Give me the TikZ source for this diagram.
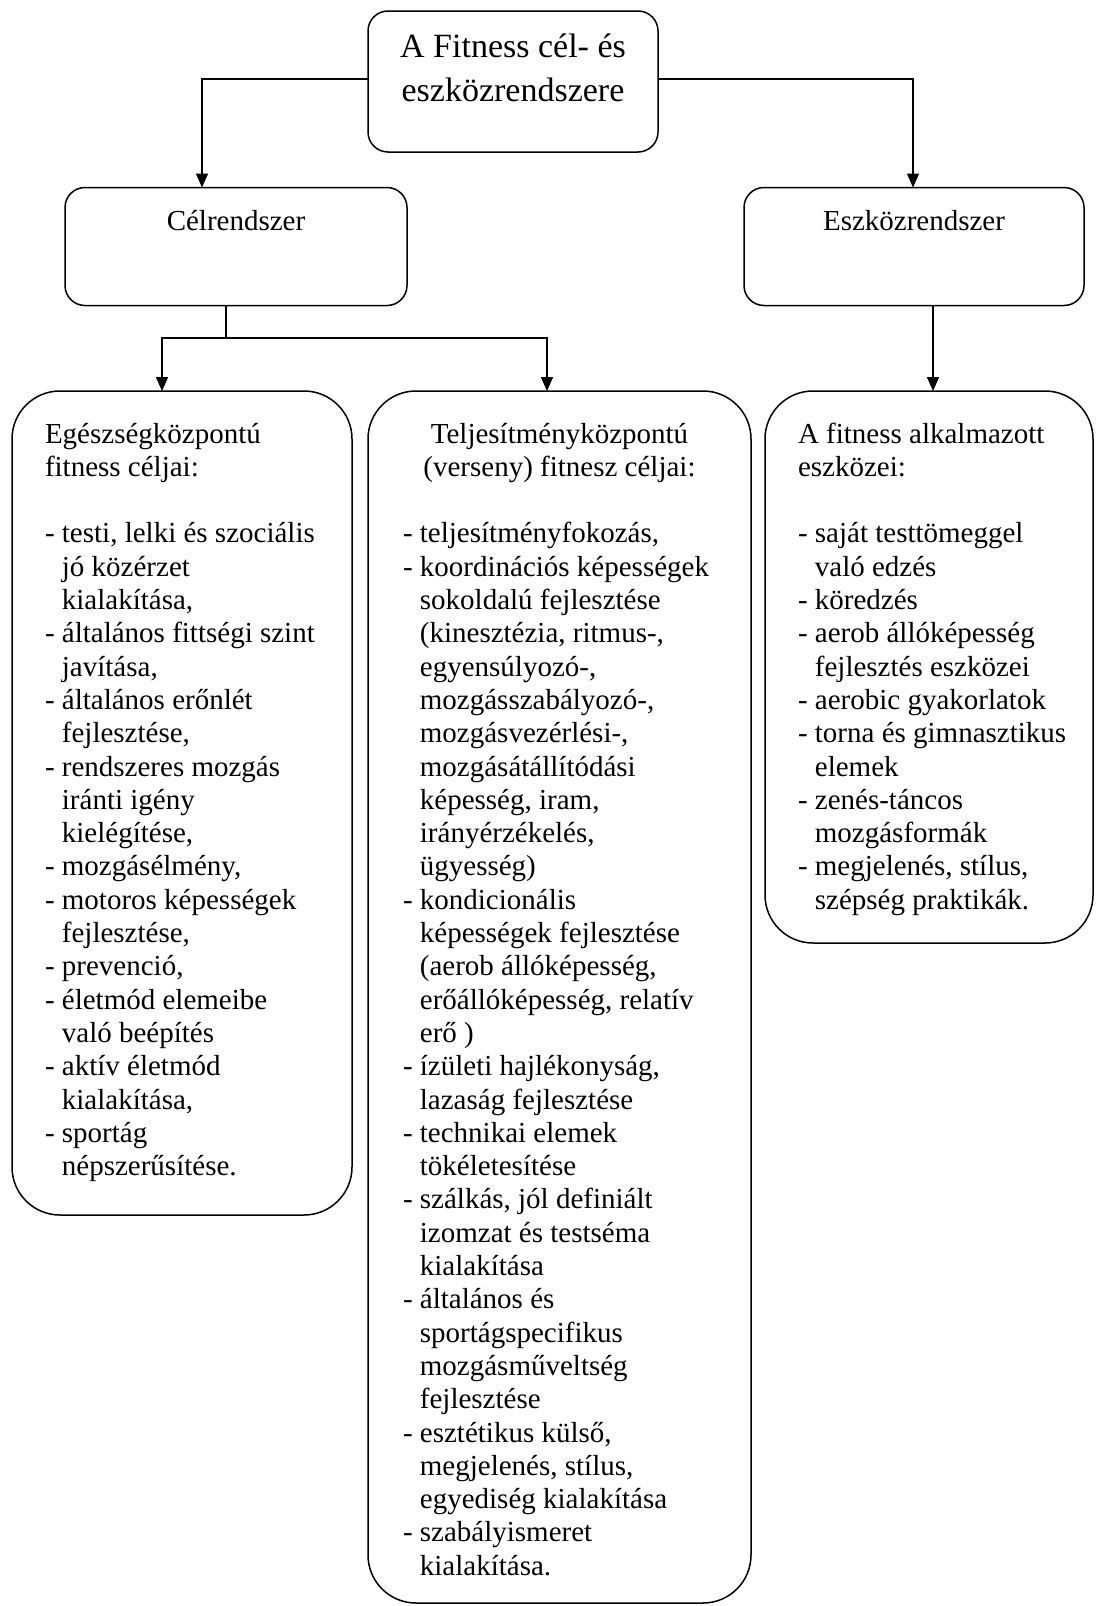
\documentclass[tikz,border=0pt]{standalone}
\usepackage{fontspec}
\setmainfont{Liberation Serif}
\usetikzlibrary{arrows.meta}
% indent of a continued list line: the width of the leading "- "
\newcommand\dd{\hphantom{-\ }}
% rigid word spaces of the current font inside aligned nodes
\newcommand\nsp{\spaceskip=\fontdimen2\font\xspaceskip=\fontdimen2\font\relax}
\begin{document}
\begin{tikzpicture}[x=1pt,y=-1pt,
  every node/.style={inner sep=0pt, outer sep=0pt},
  box/.style={draw, line width=1.5pt, rounded corners=20pt},
  bigbox/.style={draw, line width=1.5pt, rounded corners=48pt},
  link/.style={line width=1.5pt},
  arr/.style={line width=1.5pt, -{Triangle[length=14pt,width=12pt]}},
  body/.style={font=\fontsize{29pt}{33.3pt}\selectfont, align=left, anchor=base west},
  head/.style={font=\fontsize{29pt}{33.3pt}\selectfont, align=center, anchor=base},
]
\useasboundingbox (0,0) rectangle (1095,1606);

% frames
\node[box, minimum width=290pt, minimum height=141pt] (top) at (513,81.5) {};
\node[box, minimum width=342pt, minimum height=118pt] (celr) at (236,246.5) {};
\node[box, minimum width=340pt, minimum height=118pt] (eszk) at (914,246.5) {};
\node[bigbox, minimum width=340pt, minimum height=824pt] (left) at (182,803) {};
\node[bigbox, minimum width=383pt, minimum height=1212pt] (mid) at (559.5,997) {};
\node[bigbox, minimum width=328pt, minimum height=552pt] (right) at (929,667) {};

% texts
\node[font=\fontsize{34pt}{44pt}\selectfont, align=center, anchor=base, text width=290pt]
  (toptxt) at (513,57) {\nsp A Fitness cél- és\\ eszközrendszere};
\node[head] (celrtxt) at (236,230) {Célrendszer};
\node[head] (eszktxt) at (914,230) {Eszközrendszer};

\node[body, text width=305pt] (lefttxt) at (45,443) {\nsp Egészségközpontú\\
fitness céljai:\\[33.3pt]
- testi, lelki és szociális\\
\dd jó közérzet\\
\dd kialakítása,\\
- általános fittségi szint\\
\dd javítása,\\
- általános erőnlét\\
\dd fejlesztése,\\
- rendszeres mozgás\\
\dd iránti igény\\
\dd kielégítése,\\
- mozgásélmény,\\
- motoros képességek\\
\dd fejlesztése,\\
- prevenció,\\
- életmód elemeibe\\
\dd való beépítés\\
- aktív életmód\\
\dd kialakítása,\\
- sportág\\
\dd népszerűsítése.};

\node[head, text width=383pt] (midhead) at (559.5,443)
  {\nsp Teljesítményközpontú\\ (verseny) fitnesz céljai:};
\node[body, text width=340pt] (midtxt) at (403,542.9) {\nsp - teljesítményfokozás,\\
- koordinációs képességek\\
\dd sokoldalú fejlesztése\\
\dd (kinesztézia, ritmus-,\\
\dd egyensúlyozó-,\\
\dd mozgásszabályozó-,\\
\dd mozgásvezérlési-,\\
\dd mozgásátállítódási\\
\dd képesség, iram,\\
\dd irányérzékelés,\\
\dd ügyesség)\\
- kondicionális\\
\dd képességek fejlesztése\\
\dd (aerob állóképesség,\\
\dd erőállóképesség, relatív\\
\dd erő )\\
- ízületi hajlékonyság,\\
\dd lazaság fejlesztése\\
- technikai elemek\\
\dd tökéletesítése\\
- szálkás, jól definiált\\
\dd izomzat és testséma\\
\dd kialakítása\\
- általános és\\
\dd sportágspecifikus\\
\dd mozgásműveltség\\
\dd fejlesztése\\
- esztétikus külső,\\
\dd megjelenés, stílus,\\
\dd egyediség kialakítása\\
- szabályismeret\\
\dd kialakítása.};

\node[body, text width=295pt] (righttxt) at (798,443) {\nsp A fitness alkalmazott\\
eszközei:\\[33.3pt]
- saját testtömeggel\\
\dd való edzés\\
- köredzés\\
- aerob állóképesség\\
\dd fejlesztés eszközei\\
- aerobic gyakorlatok\\
- torna és gimnasztikus\\
\dd elemek\\
- zenés-táncos\\
\dd mozgásformák\\
- megjelenés, stílus,\\
\dd szépség praktikák.};

% junction points of the connectors
\coordinate (j1) at (202,79);
\coordinate (j2) at (913,79);
\coordinate (j3) at (226,338);
\coordinate (j4) at (162,338);
\coordinate (j5) at (547,338);
\coordinate (j6) at (933,338);

% connectors
\draw[arr] (top.west |- j1) -- (j1) -- (j1 |- celr.north);
\draw[arr] (top.east |- j2) -- (j2) -- (j2 |- eszk.north);
\draw[link] (celr.south -| j3) -- (j3);
\draw[arr] (j3) -- (j4) -- (j4 |- left.north);
\draw[arr] (j3) -- (j5) -- (j5 |- mid.north);
\draw[arr] (eszk.south -| j6) -- (j6 |- right.north);
\end{tikzpicture}
\end{document}
